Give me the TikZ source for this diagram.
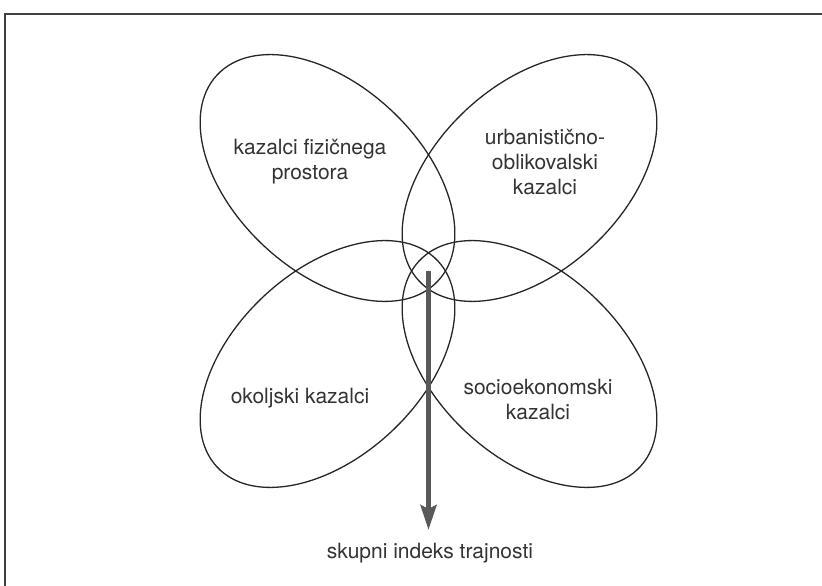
\documentclass[tikz,border=0pt]{standalone}
\usepackage{fontspec}
\setmainfont{TeX Gyre Heros}
\usetikzlibrary{shapes, arrows.meta}

\begin{document}
\begin{tikzpicture}[x=1pt,y=1pt]
      \tikzset{petal/.style={ellipse,
          draw=black!85,
          line width=1.3pt,
          minimum width=302pt,
          minimum height=186pt,
          inner sep=0pt,
          rotate=#1},
        petal text/.style={text=black!80,
          align=center,
          font=\fontsize{21}{25}\selectfont}
      }
      \useasboundingbox (0,0) rectangle (822,586);
      \draw [line width=2pt,black!75] (5,0) |- (822,572);

      \node [petal=-43] (fizicni) at (327.5,408) {};
      \node [petal=43] (urban) at (529.5,408) {};
      \node [petal=43] (okolje) at (327.5,222) {};
      \node [petal=-43] (socio) at (529.5,222) {};

      \node [petal text] (fizicniT) at (310,424) {kazalci fizičnega\\prostora};
      \node [petal text] (urbanT) at (545,424) {urbanistično-\\oblikovalski\\kazalci};
      \node [petal text] (okoljeT) at (300,188) {okoljski kazalci};
      \node [petal text] (socioT) at (538,186) {socioekonomski\\kazalci};
      \node [petal text] (skupni) at (430,33) {skupni indeks trajnosti};

      \coordinate (S) at (428.5,315);
      \coordinate (T) at (428.5,56);
      \draw [line width=4.5pt,black!65,-{Stealth[length=25pt,width=16pt,inset=4pt]}] (S)--(T);
    \end{tikzpicture}
\end{document}
